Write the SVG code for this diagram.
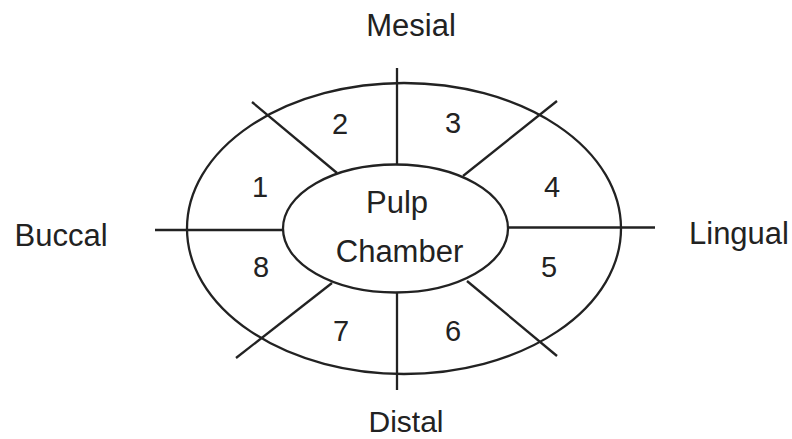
<svg xmlns="http://www.w3.org/2000/svg" width="792" height="439" viewBox="0 0 792 439">
<style>
.ln{stroke:#222;stroke-width:2.3;fill:none;stroke-linecap:butt}
.t{font-family:"Liberation Sans",Arial,sans-serif;fill:#222;text-anchor:middle}
.lab{font-size:31px}
.num{font-size:29px}
</style>
<rect width="792" height="439" fill="#fff"/>
<g id="outer-ring"><ellipse class="ln" cx="404" cy="228.5" rx="217" ry="145.5"/></g>
<g id="connectors">
<line class="ln" x1="397" y1="68" x2="397" y2="164.5"/>
<line class="ln" x1="397" y1="292.5" x2="397" y2="390"/>
<line class="ln" x1="155" y1="230" x2="283" y2="230"/>
<line class="ln" x1="508" y1="227.5" x2="655" y2="227.5"/>
<line class="ln" x1="252" y1="102" x2="337" y2="173"/>
<line class="ln" x1="557" y1="101" x2="463" y2="176"/>
<line class="ln" x1="332" y1="283" x2="236" y2="358"/>
<line class="ln" x1="467" y1="281" x2="557" y2="356"/>
</g>
<g id="pulp-chamber">
<ellipse class="ln" cx="395.5" cy="228.5" rx="112.5" ry="64" fill="#fff"/>
<text class="t lab" x="397" y="213">Pulp</text>
<text class="t lab" x="399.5" y="262">Chamber</text>
</g>
<g id="segment-1"><text class="t num" x="260" y="197">1</text></g>
<g id="segment-2"><text class="t num" x="340" y="134">2</text></g>
<g id="segment-3"><text class="t num" x="453" y="133">3</text></g>
<g id="segment-4"><text class="t num" x="552" y="197">4</text></g>
<g id="segment-5"><text class="t num" x="549" y="277">5</text></g>
<g id="segment-6"><text class="t num" x="453" y="341">6</text></g>
<g id="segment-7"><text class="t num" x="341" y="341">7</text></g>
<g id="segment-8"><text class="t num" x="261" y="277">8</text></g>
<g id="label-mesial"><text class="t lab" x="411" y="36">Mesial</text></g>
<g id="label-buccal"><text class="t lab" x="61" y="246">Buccal</text></g>
<g id="label-lingual"><text class="t lab" x="739" y="244">Lingual</text></g>
<g id="label-distal"><text class="t" style="font-size:30px" x="406" y="432">Distal</text></g>
</svg>
